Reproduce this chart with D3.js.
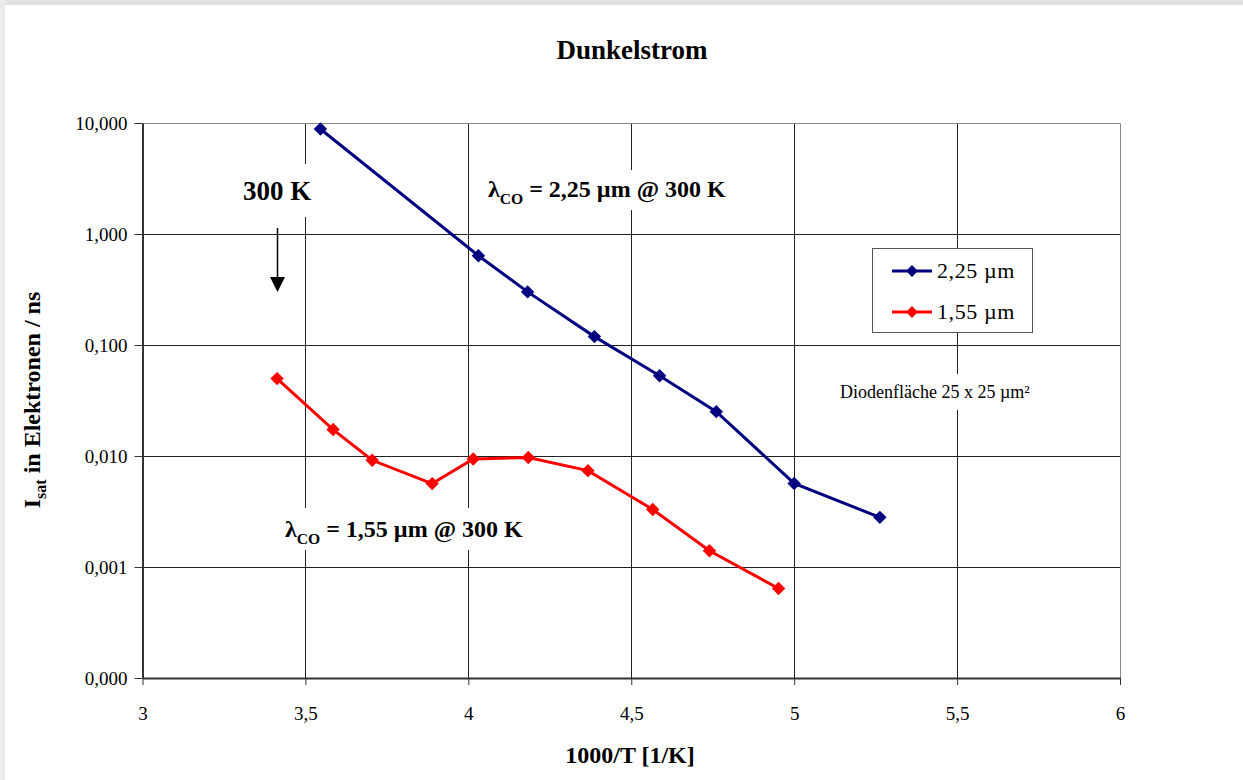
<!DOCTYPE html>
<html>
<head>
<meta charset="utf-8">
<script src="https://cdn.jsdelivr.net/npm/d3@7"></script>
<style>
  html, body { margin: 0; padding: 0; background: #fff; }
  svg { display: block; font-family: "Liberation Serif", "Times New Roman", serif; }
</style>
</head>
<body>
<svg id="chart" width="1243" height="780"></svg>
<script>
// Dark current vs. inverse temperature, two cut-off wavelengths
const seriesNames = ["2,25 µm", "1,55 µm"];
const seriesColors = ["#000080", "#ff0000"];

const invT_225 = [3.546, 4.031, 4.182, 4.387, 4.587, 4.761, 5.0, 5.263];
const isat_225 = [8.83, 0.637, 0.301, 0.119, 0.0529, 0.0251, 0.00566, 0.0028];

const invT_155 = [3.413, 3.585, 3.705, 3.889, 4.015, 4.184, 4.367, 4.566, 4.740, 4.952];
const isat_155 = [0.0498, 0.0173, 0.00915, 0.00564, 0.0094, 0.0097, 0.00738, 0.0033, 0.0014, 0.00064];

const xTicks = [3, 3.5, 4, 4.5, 5, 5.5, 6];
const yTicks = [10, 1, 0.1, 0.01, 0.001, 0.0001];

const svg = d3.select("#chart");
const W = 1243, H = 780;
const m = { left: 142.5, right: 1120, top: 123, bottom: 678 };

// window frame
svg.append("rect").attr("x", 0).attr("y", 0).attr("width", W).attr("height", 5).attr("fill", "#e2e2e2");
svg.append("rect").attr("x", 0).attr("y", 0).attr("width", 5).attr("height", H).attr("fill", "#ebebeb");

const x = d3.scaleLinear().domain([3, 6]).range([m.left, m.right]);
const y = d3.scaleLog().domain([0.0001, 10]).range([m.bottom, m.top]);

const fmtX = d => String(d).replace(".", ",");
const fmtY = d => d3.format(".3f")(d).replace(".", ",");

// gridlines
const grid = svg.append("g");
grid.selectAll("line.v").data(xTicks.slice(1, -1)).join("line")
  .attr("x1", d => Math.round(x(d)) + 0.5).attr("x2", d => Math.round(x(d)) + 0.5)
  .attr("y1", m.top).attr("y2", m.bottom)
  .attr("stroke", "#222").attr("stroke-width", 1);
grid.selectAll("line.h").data(yTicks.slice(1, -1)).join("line")
  .attr("y1", d => Math.round(y(d)) + 0.5).attr("y2", d => Math.round(y(d)) + 0.5)
  .attr("x1", m.left).attr("x2", m.right)
  .attr("stroke", "#222").attr("stroke-width", 1);

// top & right frame
svg.append("path")
  .attr("d", `M${m.left},${m.top + 0.5}H${m.right + 0.5}V${m.bottom}`)
  .attr("fill", "none").attr("stroke", "#888").attr("stroke-width", 1);

// axes
const xAxis = d3.axisBottom(x).tickValues(xTicks).tickFormat(fmtX).tickSize(7).tickSizeOuter(0);
const gx = svg.append("g").attr("transform", `translate(0,${m.bottom})`).call(xAxis);
gx.select(".domain").attr("stroke", "#333").attr("stroke-width", 2);
gx.selectAll(".tick line").attr("stroke", "#333");
gx.selectAll(".tick text").attr("font-family", "Liberation Serif").attr("font-size", 19)
  .attr("fill", "#000").attr("dy", 0).attr("y", 42);

const yAxis = d3.axisLeft(y).tickValues(yTicks).tickFormat(fmtY).tickSize(8).tickSizeOuter(0);
const gy = svg.append("g").attr("transform", `translate(${m.left},0)`).call(yAxis);
gy.select(".domain").attr("stroke", "#333").attr("stroke-width", 2);
gy.selectAll(".tick line").attr("stroke", "#333");
gy.selectAll(".tick text").attr("font-family", "Liberation Serif").attr("font-size", 19)
  .attr("fill", "#000").attr("x", -15).attr("dy", "0.33em");

// title & axis titles
svg.append("text").attr("x", 632).attr("y", 59).attr("text-anchor", "middle")
  .attr("font-size", 27).attr("font-weight", "bold").text("Dunkelstrom");
svg.append("text").attr("x", 630).attr("y", 763).attr("text-anchor", "middle")
  .attr("font-size", 24).attr("font-weight", "bold").text("1000/T [1/K]");

const yl = svg.append("text").attr("transform", "translate(40,400) rotate(-90)")
  .attr("text-anchor", "middle").attr("font-size", 24).attr("font-weight", "bold");
yl.append("tspan").text("I");
yl.append("tspan").attr("font-size", 16).attr("dy", 6).text("sat");
yl.append("tspan").attr("dy", -6).text(" in Elektronen / ns");

// text boxes with white backgrounds
function boxLabel(cx, baseline, parts, opts) {
  const g = svg.append("g");
  const bg = g.append("rect").attr("fill", "#fff");
  const t = g.append("text").attr("x", cx).attr("y", baseline)
    .attr("text-anchor", opts.anchor || "start")
    .attr("font-size", opts.size).attr("font-weight", opts.weight || "normal");
  parts.forEach(p => {
    const s = t.append("tspan").text(p.t);
    if (p.sub) s.attr("font-size", opts.size * 0.65).attr("dy", opts.size * 0.3);
    if (p.back) s.attr("dy", -opts.size * 0.3);
  });
  const b = t.node().getBBox();
  bg.attr("x", b.x - opts.padX).attr("y", baseline - opts.above)
    .attr("width", b.width + 2 * opts.padX).attr("height", opts.above + opts.below);
}

boxLabel(243, 200, [{ t: "300 K" }], { size: 27, weight: "bold", padX: 3, above: 36, below: 17 });
boxLabel(488, 197, [{ t: "λ" }, { t: "CO", sub: true }, { t: " = 2,25 µm @ 300 K", back: true }],
  { size: 24, weight: "bold", padX: 3, above: 27, below: 13 });
boxLabel(285, 537, [{ t: "λ" }, { t: "CO", sub: true }, { t: " = 1,55 µm @ 300 K", back: true }],
  { size: 24, weight: "bold", padX: 3, above: 29, below: 13 });
boxLabel(840, 398, [{ t: "Diodenfläche 25 x 25 µm²" }],
  { size: 18, padX: 3, above: 24, below: 12 });

// arrow pointing down to the 300 K data
svg.append("line").attr("x1", 277.5).attr("x2", 277.5).attr("y1", 228).attr("y2", 278)
  .attr("stroke", "#000").attr("stroke-width", 1.5);
svg.append("path").attr("d", "M270,277L285,277L277.5,292Z").attr("fill", "#000");

// series
const series = [
  { name: seriesNames[0], color: seriesColors[0], xs: invT_225, ys: isat_225 },
  { name: seriesNames[1], color: seriesColors[1], xs: invT_155, ys: isat_155 }
];
const line = d3.line().x(d => x(d[0])).y(d => y(d[1]));

series.forEach(s => {
  const pts = s.xs.map((v, i) => [v, s.ys[i]]);
  svg.append("path").datum(pts).attr("d", line)
    .attr("fill", "none").attr("stroke", s.color).attr("stroke-width", 3);
  svg.append("g").selectAll("path").data(pts).join("path")
    .attr("transform", d => `translate(${x(d[0])},${y(d[1])}) rotate(45)`)
    .attr("d", d3.symbol().type(d3.symbolSquare).size(90))
    .attr("fill", s.color);
});

// legend
const lg = svg.append("g");
lg.append("rect").attr("x", 872.5).attr("y", 248.5).attr("width", 160).attr("height", 84)
  .attr("fill", "#fff").attr("stroke", "#555").attr("stroke-width", 1);
series.forEach((s, i) => {
  const ly = 271 + i * 41;
  lg.append("line").attr("x1", 892).attr("x2", 932).attr("y1", ly).attr("y2", ly)
    .attr("stroke", s.color).attr("stroke-width", 3);
  lg.append("path").attr("transform", `translate(912,${ly}) rotate(45)`)
    .attr("d", d3.symbol().type(d3.symbolSquare).size(70)).attr("fill", s.color);
  lg.append("text").attr("x", 937).attr("y", ly + 7).attr("font-size", 22)
    .attr("letter-spacing", 0.6).text(s.name);
});
</script>
</body>
</html>
